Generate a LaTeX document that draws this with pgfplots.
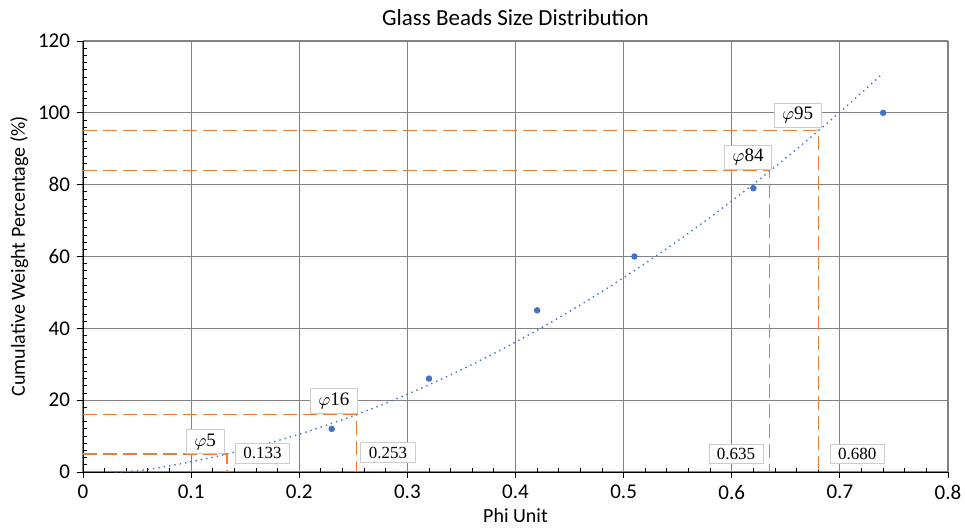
\documentclass[border=0pt]{standalone}
\usepackage{pgfplots}
\pgfplotsset{compat=1.18}
\usepackage{fontspec}
\setmainfont{Carlito}
\newfontfamily\lblfont{Liberation Serif}
\definecolor{xlblue}{RGB}{68,114,196}
\definecolor{xlorange}{RGB}{237,125,49}
\definecolor{gridgray}{RGB}{130,130,130}
\begin{document}
\begin{tikzpicture}[
    lbl/.style={draw=gray!40, fill=white, inner xsep=4pt, inner ysep=2pt, font=\lblfont\fontsize{8.5}{10}\selectfont},
    phi/.style={lbl, inner xsep=4pt, font=\lblfont\fontsize{9.5}{11}\selectfont},
]
\useasboundingbox (-41.5pt,-28pt) rectangle (441pt,236pt);
\begin{axis}[
    name=ax,
    at={(0,0)}, anchor=south west,
    scale only axis,
    width=432.5pt, height=215.5pt,
    xmin=0, xmax=0.8, ymin=0, ymax=120,
    xtick={0,0.1,...,0.8},
    xticklabels={0,0.1,0.2,0.3,0.4,0.5,0.6,0.7,0.8},
    ytick={0,20,...,120},
    minor x tick num=4, minor y tick num=9,
    axis lines=left, axis line style={-, black},
    grid=major, major grid style={gridgray, line width=0.6pt},
    tick align=outside, major tick length=3pt, minor tick length=2pt,
    tick style={black, line width=0.4pt},
    minor x tick style={yshift=2pt},
    minor y tick style={xshift=2pt},
    /pgf/number format/assume math mode=true,
    tick label style={font=\fontsize{10.5}{12}\selectfont},
    title={Glass Beads Size Distribution},
    title style={font=\fontsize{11.5}{13}\selectfont, yshift=-2pt},
    xlabel={Phi Unit}, ylabel={Cumulative Weight Percentage (\%)},
    label style={font=\fontsize{10}{12}\selectfont},
    xlabel style={yshift=2.5pt},
    ylabel style={yshift=-2pt},
    clip=false,
]
% trend line (polynomial fit)
\addplot[xlblue, dotted, line width=0.7pt, smooth] coordinates {
 (0.03,0.0) (0.04,0.1) (0.06,0.71) (0.08,1.71) (0.10,2.84) (0.12,4.10) (0.14,5.51)
 (0.16,7.05) (0.18,8.72) (0.20,10.53) (0.22,12.48) (0.24,14.57) (0.26,16.79)
 (0.28,19.15) (0.30,21.64) (0.32,24.28) (0.34,27.04) (0.36,29.95) (0.38,32.99)
 (0.40,36.17) (0.42,39.48) (0.44,42.93) (0.46,46.52) (0.48,50.24) (0.50,54.10)
 (0.52,58.10) (0.54,62.23) (0.56,66.50) (0.58,70.90) (0.60,75.45) (0.62,80.13)
 (0.64,84.94) (0.66,89.89) (0.68,94.98) (0.70,100.20) (0.72,105.57) (0.74,111.06)};
% percentile guide lines
\addplot[xlorange, dash pattern=on 7pt off 3pt, line width=0.7pt] coordinates {(0,5) (0.133,5) (0.133,0)};
\addplot[xlorange, dash pattern=on 7pt off 3pt, line width=0.7pt] coordinates {(0,16) (0.253,16) (0.253,0)};
\addplot[xlorange, dash pattern=on 7pt off 3pt, line width=0.7pt] coordinates {(0,84) (0.635,84) (0.635,0)};
\addplot[xlorange, dash pattern=on 7pt off 3pt, line width=0.7pt] coordinates {(0,95) (0.680,95) (0.680,0)};
% data
\addplot[only marks, mark=*, mark size=1.4pt, color=xlblue] coordinates {
 (0.23,12) (0.32,26) (0.42,45) (0.51,60) (0.62,79) (0.74,100)};
% labels
\node[phi] at (axis cs:0.113,8.4) {$\varphi$5};
\node[lbl] at (axis cs:0.166,5.2) {0.133};
\node[phi] at (axis cs:0.232,19.8) {$\varphi$16};
\node[lbl] at (axis cs:0.282,5.4) {0.253};
\node[phi] at (axis cs:0.615,87.7) {$\varphi$84};
\node[lbl] at (axis cs:0.604,5.0) {0.635};
\node[phi] at (axis cs:0.661,99.4) {$\varphi$95};
\node[lbl] at (axis cs:0.716,5.0) {0.680};
\end{axis}
\end{tikzpicture}
\end{document}
